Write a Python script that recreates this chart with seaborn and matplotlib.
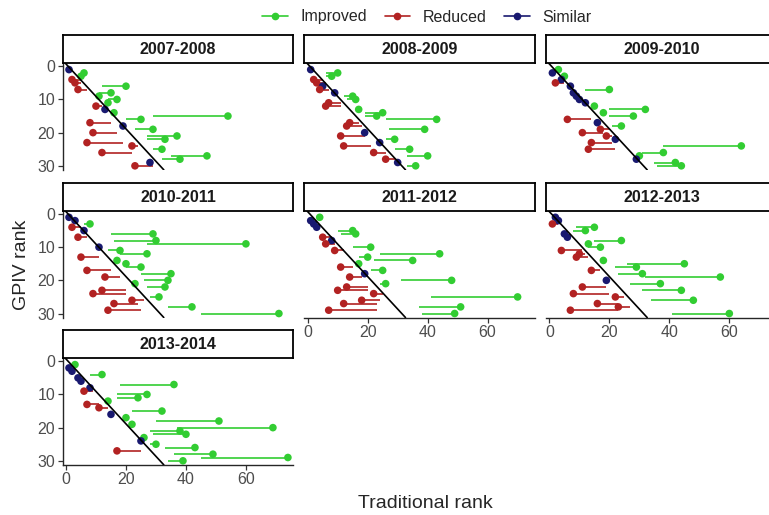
import pandas as pd
import matplotlib
matplotlib.use('Agg')
import matplotlib.pyplot as plt
from matplotlib.lines import Line2D
import seaborn as sns

seasons = ['2007-2008', '2008-2009', '2009-2010', '2010-2011',
           '2011-2012', '2012-2013', '2013-2014']
gpiv_rank = [1, 2, 3, 4, 5, 6, 7, 8, 9, 10, 11, 12, 13, 14, 15,
             16, 17, 18, 19, 20, 21, 22, 23, 24, 25, 26, 27, 28, 29, 30]

# traditional rank (point), other end of segment, change class per GPIV rank
trad_0708 = [1, 6, 5, 2, 3, 20, 4, 15, 11, 17, 14, 10, 13, 16, 54, 25, 8, 19, 29, 9, 37, 33, 7, 22, 32, 12, 47, 38, 28, 23]
other_0708 = [1, 5, 4, 5, 5, 12, 7, 11, 10, 14, 13, 12, 13, 16, 29, 20, 15, 19, 23, 17, 27, 27, 19, 24, 29, 22, 35, 32, 28, 29]
change_0708 = 'S I I R R I R I I I I R S I I I R S I R I I R R I R I I S R'

trad_0809 = [1, 10, 8, 2, 3, 5, 4, 9, 15, 16, 7, 6, 17, 25, 23, 43, 14, 13, 39, 19, 11, 29, 24, 12, 34, 22, 40, 26, 30, 36]
other_0809 = [1, 6, 6, 5, 6, 5, 7, 9, 12, 13, 11, 11, 17, 19, 19, 26, 17, 18, 27, 19, 19, 26, 24, 21, 29, 26, 33, 29, 30, 33]
change_0809 = 'S I I R R S R S I I R R I I I I R R I S R I S R I R I R S I'

trad_0910 = [3, 1, 5, 4, 2, 7, 20, 8, 9, 10, 12, 15, 32, 18, 28, 6, 16, 24, 17, 11, 19, 22, 14, 64, 13, 38, 30, 29, 42, 44]
other_0910 = [3, 1, 5, 4, 5, 7, 12, 8, 9, 10, 12, 15, 20, 17, 20, 14, 16, 21, 20, 18, 21, 22, 21, 38, 22, 31, 30, 29, 35, 36]
change_0910 = 'I S I S R S I S S S S I I I I R S I R R R S R I R I I S I I'

trad_1011 = [1, 3, 8, 2, 6, 29, 4, 30, 60, 11, 18, 27, 5, 17, 20, 25, 7, 35, 13, 34, 23, 33, 12, 9, 31, 22, 16, 42, 14, 71]
other_1011 = [1, 3, 6, 5, 6, 15, 7, 16, 27, 11, 14, 18, 11, 17, 20, 20, 15, 25, 18, 26, 23, 27, 20, 20, 28, 26, 24, 34, 25, 45]
change_1011 = 'S S I R S I R I I S I I R I I I R I R I I I R R I R R I R I'

trad_1112 = [4, 1, 2, 3, 15, 16, 5, 8, 6, 21, 9, 44, 20, 35, 17, 11, 25, 19, 14, 48, 26, 13, 10, 22, 70, 18, 12, 51, 7, 49]
other_1112 = [4, 1, 2, 3, 10, 11, 8, 8, 9, 15, 12, 24, 17, 22, 17, 15, 21, 19, 18, 31, 24, 20, 20, 25, 41, 24, 23, 37, 23, 38]
change_1112 = 'I S S S I I R S R I R I I I I R I S R I I R R R I R R I R I'

trad_1213 = [2, 3, 1, 15, 12, 5, 6, 24, 13, 17, 4, 10, 9, 18, 45, 29, 14, 31, 57, 19, 37, 11, 44, 8, 22, 48, 16, 23, 7, 60]
other_1213 = [2, 3, 3, 9, 8, 5, 6, 15, 12, 13, 11, 12, 13, 18, 26, 22, 17, 23, 32, 19, 27, 19, 31, 20, 25, 34, 23, 27, 23, 41]
change_1213 = 'S S R I I S S I I I R R R I I I R I I S I R I R R I R R R I'

trad_1314 = [3, 1, 2, 12, 4, 5, 36, 8, 6, 27, 24, 14, 7, 11, 32, 15, 20, 51, 22, 69, 38, 40, 26, 25, 30, 43, 17, 49, 74, 39]
other_1314 = [3, 1, 2, 8, 4, 5, 18, 8, 9, 17, 17, 14, 11, 14, 22, 15, 20, 30, 22, 37, 28, 29, 26, 25, 28, 33, 25, 36, 45, 34]
change_1314 = 'I S S I S S I S R I I I R R I S I I I I I I I S I I R I I I'

palette = {'Improved': '#32CD32', 'Reduced': '#B22222', 'Similar': '#191970'}
codes = {'I': 'Improved', 'R': 'Reduced', 'S': 'Similar'}

all_trad = [trad_0708, trad_0809, trad_0910, trad_1011, trad_1112, trad_1213, trad_1314]
all_other = [other_0708, other_0809, other_0910, other_1011, other_1112, other_1213, other_1314]
all_change = [change_0708, change_0809, change_0910, change_1011, change_1112, change_1213, change_1314]

frames = []
for season, trad, other, change in zip(seasons, all_trad, all_other, all_change):
    frames.append(pd.DataFrame({'season': season, 'gpiv': gpiv_rank, 'trad': trad,
                                'other': other, 'change': [codes[c] for c in change.split()]}))
df = pd.concat(frames, ignore_index=True)

sns.set_style('ticks')
plt.rcParams['font.family'] = ['Liberation Sans', 'DejaVu Sans']

W, H = 769, 515
fig = plt.figure(figsize=(W / 100, H / 100), dpi=100)


def box(left, top, w, h):
    return [left / W, 1 - (top + h) / H, w / W, h / H]


col_left = [62.7, 304.4, 546.1]
row_top = [63.3, 211.0, 358.3]
panel_w, panel_h, strip_h = 230.6, 106.5, 28.0
bottom_panels = {4, 5, 6}

for i, season in enumerate(seasons):
    r, c = divmod(i, 3)
    ax = fig.add_axes(box(col_left[c], row_top[r], panel_w, panel_h))
    sub = df[df['season'] == season]

    ax.hlines(sub['gpiv'], sub['other'], sub['trad'],
              colors=[palette[v] for v in sub['change']], linewidth=1.2, zorder=2)
    sns.scatterplot(data=sub, x='trad', y='gpiv', hue='change', palette=palette,
                    s=30, linewidth=0, legend=False, ax=ax, zorder=3)
    ax.axline((0, -0.7), (32.4, 31.0), color='black', linewidth=1.2, zorder=4)

    ax.set_xlim(-1.1, 75.8)
    ax.set_ylim(31.2, -0.9)
    ax.set_xticks([0, 20, 40, 60])
    ax.set_yticks([0, 10, 20, 30])
    ax.set_xlabel('')
    ax.set_ylabel('')
    for side in ['top', 'right', 'left', 'bottom']:
        ax.spines[side].set_visible(False)
    ax.tick_params(colors='#333333', labelcolor='#4D4D4D', labelsize=11.5,
                   length=3.5, width=0.9, pad=2)
    if c == 0:
        ax.spines['left'].set_visible(True)
        ax.spines['left'].set_linewidth(1.0)
    else:
        ax.tick_params(axis='y', left=False, labelleft=False)
    if i in bottom_panels:
        ax.spines['bottom'].set_visible(True)
        ax.spines['bottom'].set_linewidth(1.0)
    else:
        ax.tick_params(axis='x', bottom=False, labelbottom=False)

    sax = fig.add_axes(box(col_left[c], row_top[r] - strip_h, panel_w, strip_h))
    sax.set_xticks([])
    sax.set_yticks([])
    sax.set_facecolor('white')
    for side in sax.spines.values():
        side.set_visible(True)
        side.set_linewidth(1.3)
        side.set_color('black')
    sax.text(0.5, 0.5, season, ha='center', va='center', fontsize=11.5,
             fontweight='bold', color='#1A1A1A', transform=sax.transAxes)

fig.text(22 / W, 1 - 265 / H, 'GPIV rank', rotation=90, ha='center', va='center', fontsize=14)
fig.text(425 / W, 1 - 503 / H, 'Traditional rank', ha='center', va='center', fontsize=14)

handles = [Line2D([0], [0], color=palette[k], marker='o', markersize=4.5, linewidth=1.2)
           for k in palette]
fig.legend(handles, list(palette), loc='center', bbox_to_anchor=(427 / W, 1 - 17 / H),
           ncol=3, frameon=False, fontsize=11.5, handlelength=1.6, handletextpad=0.8,
           columnspacing=1.1)

fig.savefig('out.png', dpi=100)
